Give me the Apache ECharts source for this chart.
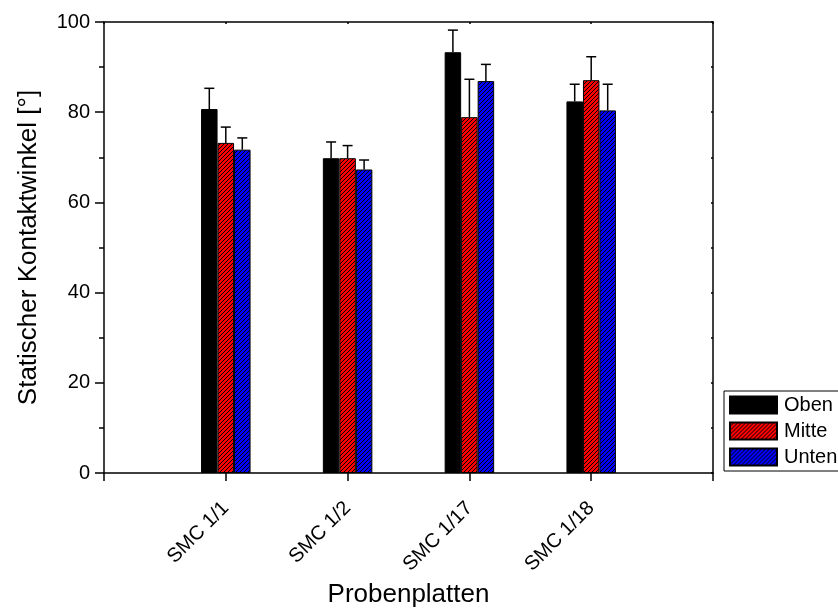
<!DOCTYPE html>
<html>
<head>
<meta charset="utf-8">
<script src="https://cdn.jsdelivr.net/npm/echarts@6/dist/echarts.min.js"></script>
<style>
  html, body { margin: 0; padding: 0; background: #fff; }
  #chart { width: 838px; height: 613px; }
</style>
</head>
<body>
<div id="chart"></div>
<script>
// Static contact angle per sample plate, measured at three positions
const categories = ['SMC 1/1', 'SMC 1/2', 'SMC 1/17', 'SMC 1/18'];
const seriesNames = ['Oben', 'Mitte', 'Unten'];
const obenValues  = [80.7, 69.8, 93.3, 82.4];
const obenErrors  = [4.6, 3.6, 4.9, 3.8];
const mitteValues = [73.2, 69.8, 78.9, 87.1];
const mitteErrors = [3.5, 2.8, 8.4, 5.2];
const untenValues = [71.7, 67.3, 86.9, 80.4];
const untenErrors = [2.6, 2.1, 3.7, 5.8];
const yTicks = [0, 20, 40, 60, 80, 100];

const FONT = 'Liberation Sans, Arial, Helvetica, sans-serif';
const BAR_W = 16.5;

// Hatched fill: crisp one-pixel diagonal black lines over a solid colour
function hatch(fill) {
  const n = 4;
  const c = document.createElement('canvas');
  c.width = n; c.height = n;
  const g = c.getContext('2d');
  g.fillStyle = fill;
  g.fillRect(0, 0, n, n);
  g.fillStyle = '#000';
  for (let x = 0; x < n; x++) g.fillRect(x, n - 1 - x, 1, 1);
  return { image: c, repeat: 'repeat' };
}

// The x axis spans 0..5 with the plates at positions 1..4
const axisCats = [''].concat(categories, ['']);
const pad = arr => [null].concat(arr, [null]);

const fills = ['#000000', hatch('#ff0000'), hatch('#0000ff')];
const values = [obenValues, mitteValues, untenValues];
const errors = [obenErrors, mitteErrors, untenErrors];

const barSeries = seriesNames.map((name, s) => ({
  name: name,
  type: 'bar',
  xAxisIndex: 0,
  yAxisIndex: 0,
  barWidth: BAR_W,
  barGap: '0%',
  data: pad(values[s]),
  itemStyle: { color: fills[s], borderColor: '#000', borderWidth: 1 },
  emphasis: { disabled: true },
  z: 2
}));

const errorSeries = seriesNames.map((name, s) => ({
  name: name + ' err',
  type: 'custom',
  xAxisIndex: 0,
  yAxisIndex: 0,
  data: values[s].map((v, i) => [i + 1, v, errors[s][i]]),
  renderItem: function (params, api) {
    const x = api.value(0), v = api.value(1), e = api.value(2);
    const base = api.coord([x, v]);
    const top = api.coord([x, v + e]);
    const cx = base[0] + (s - 1) * BAR_W;
    const half = 5;
    const st = { stroke: '#000', lineWidth: 1.5 };
    return {
      type: 'group',
      children: [
        { type: 'line', shape: { x1: cx, y1: base[1], x2: cx, y2: top[1] }, style: st },
        { type: 'line', shape: { x1: cx - half, y1: top[1], x2: cx + half, y2: top[1] }, style: st }
      ]
    };
  },
  z: 5,
  silent: true
}));

const axisLine = { show: true, onZero: false, lineStyle: { color: '#000', width: 1.5 } };

const option = {
  animation: false,
  backgroundColor: '#fff',
  textStyle: { fontFamily: FONT },
  grid: { left: 104, right: 125, top: 22, bottom: 138, containLabel: false },
  legend: {
    orient: 'vertical',
    left: 724,
    top: 391,
    data: seriesNames,
    icon: 'rect',
    itemWidth: 47,
    itemHeight: 17,
    itemGap: 6,
    padding: [4, 5, 4, 5],
    borderColor: '#000',
    borderWidth: 1,
    borderRadius: 0,
    selectedMode: false,
    textStyle: { fontSize: 20, color: '#000', fontFamily: FONT, lineHeight: 20, padding: [0, 0, 0, 2] }
  },
  xAxis: [
    {
      type: 'category',
      data: axisCats,
      boundaryGap: false,
      position: 'bottom',
      name: 'Probenplatten',
      nameLocation: 'middle',
      nameGap: 108,
      nameTextStyle: { fontSize: 26, color: '#000', fontFamily: FONT },
      axisLine: axisLine,
      axisTick: { show: true, inside: false, length: 8, interval: 0, alignWithLabel: true, lineStyle: { color: '#000', width: 1.5 } },
      axisLabel: { show: true, interval: 0, rotate: 45, margin: 32, fontSize: 20, color: '#000', fontFamily: FONT },
      splitLine: { show: false }
    },
    {
      type: 'category',
      data: axisCats,
      boundaryGap: false,
      position: 'top',
      axisLine: axisLine,
      axisTick: { show: true, inside: true, length: 2, interval: 0, lineStyle: { color: '#000', width: 1.5 } },
      axisLabel: { show: false },
      splitLine: { show: false }
    }
  ],
  yAxis: [
    {
      type: 'value',
      min: yTicks[0],
      max: yTicks[yTicks.length - 1],
      interval: 20,
      position: 'left',
      name: 'Statischer Kontaktwinkel [°]',
      nameLocation: 'middle',
      nameGap: 62,
      nameTextStyle: { fontSize: 26, color: '#000', fontFamily: FONT },
      axisLine: axisLine,
      axisTick: { show: true, inside: false, length: 9, lineStyle: { color: '#000', width: 1.5 } },
      minorTick: { show: true, splitNumber: 2, length: 5, lineStyle: { color: '#000', width: 1.5 } },
      axisLabel: { fontSize: 20, color: '#000', fontFamily: FONT, margin: 14 },
      splitLine: { show: false }
    },
    {
      type: 'value',
      min: yTicks[0],
      max: yTicks[yTicks.length - 1],
      interval: 20,
      position: 'right',
      axisLine: axisLine,
      axisTick: { show: true, inside: true, length: 2, lineStyle: { color: '#000', width: 1.5 } },
      minorTick: { show: true, splitNumber: 2, length: 2, lineStyle: { color: '#000', width: 1.5 } },
      axisLabel: { show: false },
      splitLine: { show: false }
    }
  ],
  series: barSeries.concat(errorSeries)
};

const chart = echarts.init(document.getElementById('chart'), null, { renderer: 'canvas' });
chart.setOption(option);
</script>
</body>
</html>
